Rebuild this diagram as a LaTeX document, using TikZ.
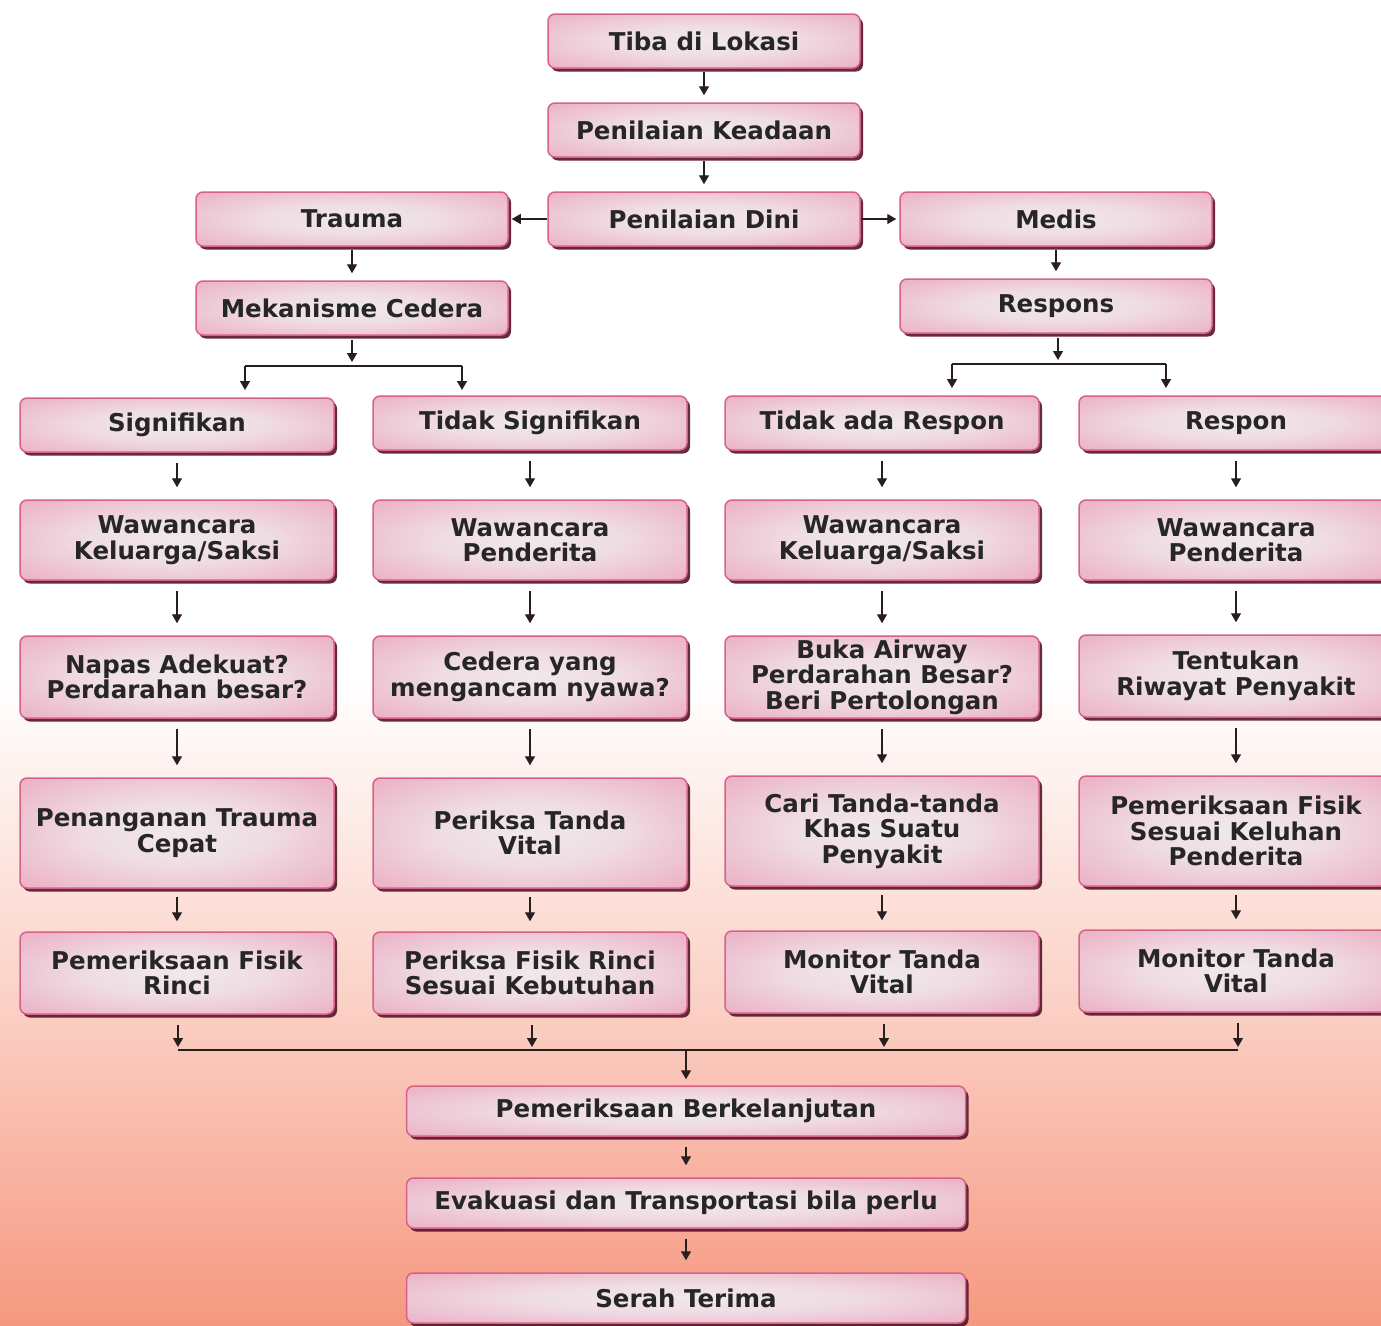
\documentclass[tikz,border=0pt]{standalone}
\usepackage{fontspec}
\setmainfont{DejaVu Sans}
\usetikzlibrary{shadows,arrows.meta,calc}
\definecolor{boxedge}{RGB}{214,98,138}
\definecolor{boxpink}{RGB}{234,158,184}
\definecolor{boxcenter}{RGB}{240,232,236}
\definecolor{bgsalmon}{RGB}{246,152,128}
\definecolor{arrowc}{RGB}{40,30,30}
\definecolor{shadowc}{RGB}{85,20,40}
\pgfdeclareradialshading{boxshade}{\pgfpoint{0bp}{0bp}}{%
  color(0bp)=(boxcenter); color(14bp)=(boxcenter!85!boxpink);
  color(30bp)=(boxpink!60!boxcenter); color(44bp)=(boxpink); color(75bp)=(boxpink)}
\begin{document}
\begin{tikzpicture}[x=1pt,y=-1pt,
  box/.style={rectangle, rounded corners=7pt, draw=boxedge, line width=1.5pt,
    shading=boxshade, align=center,
    font=\fontsize{24.5}{25.5}\selectfont\bfseries, text=black!85, inner sep=1pt,
    drop shadow={shadow xshift=3pt, shadow yshift=-3.5pt, fill=shadowc, opacity=0.9}},
  topbox/.style={box, minimum width=312pt, minimum height=54pt},
  colbox/.style={box, minimum width=314pt},
  botbox/.style={box, minimum width=559pt, minimum height=50pt},
  arr/.style={draw=arrowc, line width=1.4pt, -{Triangle[length=9pt,width=10pt]}},
  link/.style={draw=arrowc, line width=1.4pt},
  vgap/.style={shorten <=10pt, shorten >=12pt},
  sgap/.style={shorten <=3pt, shorten >=7pt}]
\useasboundingbox (0,0) rectangle (1381,1325);
\clip (0,0) rectangle (1381,1325);
% background
\fill[white] (0,0) rectangle (1381,680);
\shade[top color=white, bottom color=bgsalmon, middle color=bgsalmon!45!white] (0,680) rectangle (1381,1325);

% top chain
\node[topbox] (tiba) at (704,41) {Tiba di Lokasi};
\node[topbox] (keadaan) at (704,130) {Penilaian Keadaan};
\node[topbox] (dini) at (704,219) {Penilaian Dini};
\node[topbox] (trauma) at (352,219) {Trauma};
\node[topbox] (medis) at (1056,219) {Medis};
\node[topbox] (mekanisme) at (352,308) {Mekanisme Cedera};
\node[topbox] (respons) at (1056,306) {Respons};

% columns
\foreach \n/\x/\y/\h/\t in {
  a1/177/425/54/{Signifikan},
  a2/177/540/80/{Wawancara\\Keluarga/Saksi},
  a3/177/677/82/{Napas Adekuat?\\Perdarahan besar?},
  a4/177/833/110/{Penanganan Trauma\\Cepat},
  a5/177/973/82/{Pemeriksaan Fisik\\Rinci},
  b1/530/423/54/{Tidak Signifikan},
  b2/530/540/80/{Wawancara\\Penderita},
  b3/530/677/82/{Cedera yang\\mengancam nyawa?},
  b4/530/833/110/{Periksa Tanda\\Vital},
  b5/530/973/82/{Periksa Fisik Rinci\\Sesuai Kebutuhan},
  c1/882/423/54/{Tidak ada Respon},
  c2/882/540/80/{Wawancara\\Keluarga/Saksi},
  c3/882/677/82/{Buka Airway\\Perdarahan Besar?\\Beri Pertolongan},
  c4/882/831/110/{Cari Tanda-tanda\\Khas Suatu\\Penyakit},
  c5/882/972/82/{Monitor Tanda\\Vital},
  d1/1236/423/54/{Respon},
  d2/1236/540/80/{Wawancara\\Penderita},
  d3/1236/676/82/{Tentukan\\Riwayat Penyakit},
  d4/1236/831/110/{Pemeriksaan Fisik\\Sesuai Keluhan\\Penderita},
  d5/1236/971/82/{Monitor Tanda\\Vital}}
  \node[colbox, minimum height=\h pt] (\n) at (\x,\y) {\t};

% bottom chain
\node[botbox] (berk) at (686,1111) {Pemeriksaan Berkelanjutan};
\node[botbox] (evak) at (686,1203) {Evakuasi dan Transportasi bila perlu};
\node[botbox] (serah) at (686,1298) {Serah Terima};

% top arrows
\draw[arr, sgap] (tiba) -- (keadaan);
\draw[arr, sgap] (keadaan) -- (dini);
\draw[arr, shorten >=3pt] (dini.west) -- (trauma.east);
\draw[arr, shorten >=3pt] (dini.east) -- (medis.west);
\draw[arr, sgap] (trauma) -- (mekanisme);
\draw[arr, sgap] (medis) -- (respons);

% branches
\coordinate (mkj) at (352,362);
\coordinate (mkl) at (245,366);
\coordinate (mkr) at (462,366);
\coordinate (mkla) at (245,390);
\coordinate (mkra) at (462,390);
\draw[arr, shorten <=4pt] (mekanisme.south) -- (mkj);
\draw[link] (mkl) -- (mkr);
\draw[arr] (mkl) -- (mkla);
\draw[arr] (mkr) -- (mkra);

\coordinate (rsj) at (1058,360);
\coordinate (rsl) at (952,364);
\coordinate (rsr) at (1166,364);
\coordinate (rsla) at (952,388);
\coordinate (rsra) at (1166,388);
\draw[arr, shorten <=4pt] (respons.south -| rsj) -- (rsj);
\draw[link] (rsl) -- (rsr);
\draw[arr] (rsl) -- (rsla);
\draw[arr] (rsr) -- (rsra);

% column arrows
\foreach \c in {a,b,c,d}{
  \draw[arr, vgap] (\c1) -- (\c2);
  \draw[arr, vgap] (\c2) -- (\c3);
  \draw[arr, vgap] (\c3) -- (\c4);
  \draw[arr, shorten <=8pt, shorten >=10pt] (\c4) -- (\c5);
}

% merge
\coordinate (ma) at (178,1050);
\coordinate (mb) at (532,1050);
\coordinate (mc) at (884,1050);
\coordinate (md) at (1238,1050);
\coordinate (mm) at (686,1050);
\draw[arr, shorten <=10pt, shorten >=3pt] (a5.south -| ma) -- (ma);
\draw[arr, shorten <=10pt, shorten >=3pt] (b5.south -| mb) -- (mb);
\draw[arr, shorten <=10pt, shorten >=3pt] (c5.south -| mc) -- (mc);
\draw[arr, shorten <=10pt, shorten >=3pt] (d5.south -| md) -- (md);
\draw[link] (ma) -- (md);
\draw[arr, shorten >=6pt] (mm) -- (berk);
\draw[arr, vgap] (berk) -- (evak);
\draw[arr, vgap] (evak) -- (serah);
\end{tikzpicture}
\end{document}
